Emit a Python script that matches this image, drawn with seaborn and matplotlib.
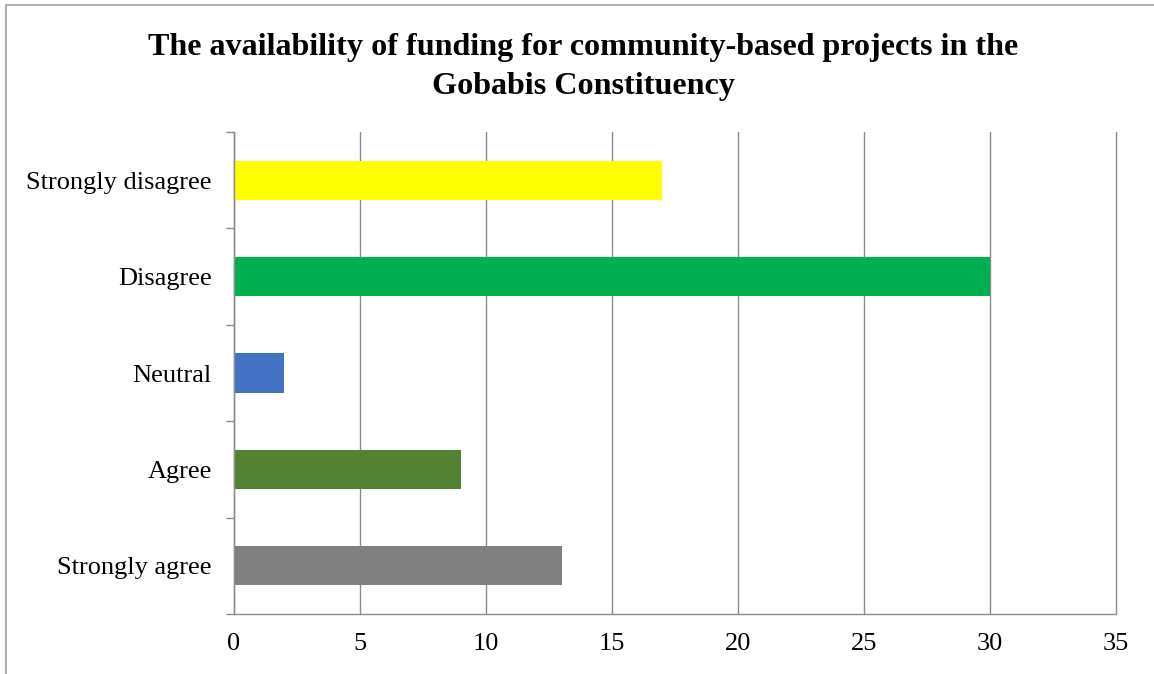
import matplotlib
matplotlib.use("Agg")
import matplotlib.pyplot as plt
from matplotlib.patches import Rectangle
import seaborn as sns
import pandas as pd

# Survey responses
categories = ["Strongly disagree", "Disagree", "Neutral", "Agree", "Strongly agree"]
counts = [17, 30, 2, 9, 13]
colors = ["#FFFF00", "#00B050", "#4472C4", "#548235", "#808080"]
x_ticks = [0, 5, 10, 15, 20, 25, 30, 35]
title_lines = ["The availability of funding for community-based projects in the",
               "Gobabis Constituency"]

sns.set_theme(style="white")
plt.rcParams["font.family"] = ["Liberation Serif", "DejaVu Serif"]

df = pd.DataFrame({"Response": categories, "Count": counts})

W, H = 1154, 674
fig = plt.figure(figsize=(W / 100, H / 100), dpi=100)
ax = fig.add_axes([234 / W, (H - 614) / H, (1116 - 234) / W, (614 - 132) / H])

sns.barplot(data=df, x="Count", y="Response", hue="Response", order=categories,
            hue_order=categories, palette=colors, width=0.405, legend=False,
            saturation=1, linewidth=0, ax=ax, orient="h")

grid_c = "#8c8c8c"
ax.set_xlim(0, 35)
ax.set_ylim(4.5, -0.5)
ax.set_xticks(x_ticks)
ax.set_xticklabels([str(t) for t in x_ticks])
ax.xaxis.grid(True, color=grid_c, linewidth=1.0)
for gl in ax.get_xgridlines():
    gl.set_clip_on(False)
ax.yaxis.grid(False)
ax.set_axisbelow(True)
ax.set_xlabel("")
ax.set_ylabel("")

for side in ["top", "right"]:
    ax.spines[side].set_visible(False)
for side in ["left", "bottom"]:
    ax.spines[side].set_color(grid_c)
    ax.spines[side].set_linewidth(1.0)

ax.tick_params(axis="x", which="major", length=5.8, width=1.0, color=grid_c,
               direction="out", pad=8, labelsize=19, labelcolor="black")
ax.tick_params(axis="y", which="major", length=0, pad=16, labelsize=19,
               labelcolor="black")
ax.set_yticks([i - 0.5 for i in range(len(categories) + 1)], minor=True)
ax.tick_params(axis="y", which="minor", length=5.8, width=1.0, color=grid_c,
               direction="out", left=True)

for y_px, line in zip([55, 94], title_lines):
    fig.text(583 / W, 1 - y_px / H, line, ha="center", va="baseline",
             fontsize=23.1, fontweight="bold", color="black")

# Chart area border
fig.patches.append(Rectangle((6 / W, -0.1), 1.2, (H - 5) / H + 0.1,
                             transform=fig.transFigure, fill=False,
                             edgecolor="#b0b0b0", linewidth=1.5))

fig.savefig("out.png", dpi=100, facecolor="white")
